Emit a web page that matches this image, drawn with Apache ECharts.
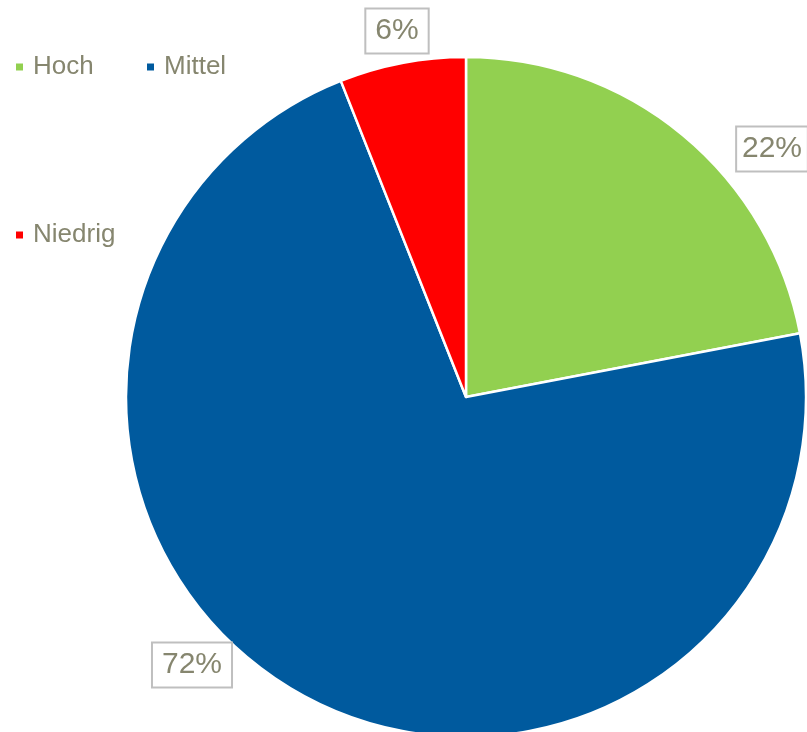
<!DOCTYPE html>
<html>
<head>
<meta charset="utf-8">
<script src="https://cdn.jsdelivr.net/npm/echarts@6/dist/echarts.min.js"></script>
<style>
  html, body { margin: 0; padding: 0; background: #ffffff; }
  #chart { width: 807px; height: 732px; }
</style>
</head>
<body>
<div id="chart"></div>
<script>
// Categories and their shares (percent)
const categories = ['Hoch', 'Mittel', 'Niedrig'];
const shares = [22, 72, 6];
const colors = ['#92d050', '#005a9e', '#ff0000'];

const textColor = '#86866f';
const fontFamily = '"Liberation Sans", Arial, sans-serif';

// Label box centres, placed beside each slice
const labelSpots = [
  { x: 772, y: 149 },
  { x: 192, y: 665 },
  { x: 397, y: 31 }
];

const chart = echarts.init(document.getElementById('chart'), null, { renderer: 'canvas' });

function legendFor(name, left, top) {
  return {
    data: [name],
    left: left,
    top: top,
    padding: 0,
    icon: 'rect',
    itemWidth: 9,
    itemHeight: 9,
    selectedMode: false,
    textStyle: {
      color: textColor,
      fontFamily: fontFamily,
      fontSize: 26,
      padding: [0, 0, 0, 4]
    }
  };
}

chart.setOption({
  animation: false,
  color: colors,
  legend: [
    legendFor('Hoch', 14, 54),
    legendFor('Mittel', 145, 54),
    legendFor('Niedrig', 14, 222)
  ],
  series: [{
    type: 'pie',
    center: [466, 397],
    radius: 340,
    startAngle: 90,
    clockwise: true,
    itemStyle: { borderColor: '#ffffff', borderWidth: 2.5 },
    label: {
      show: true,
      position: 'outside',
      overflow: 'none',
      formatter: p => p.value + '%',
      color: textColor,
      fontFamily: fontFamily,
      fontSize: 30,
      borderColor: '#bfbfbf',
      borderWidth: 2,
      backgroundColor: '#ffffff',
      padding: [7, 9, 6, 9]
    },
    labelLine: { show: false },
    labelLayout: p => ({
      x: labelSpots[p.dataIndex].x,
      y: labelSpots[p.dataIndex].y,
      align: 'center',
      verticalAlign: 'middle'
    }),
    data: categories.map((c, i) => ({ name: c, value: shares[i] }))
  }]
});
</script>
</body>
</html>
